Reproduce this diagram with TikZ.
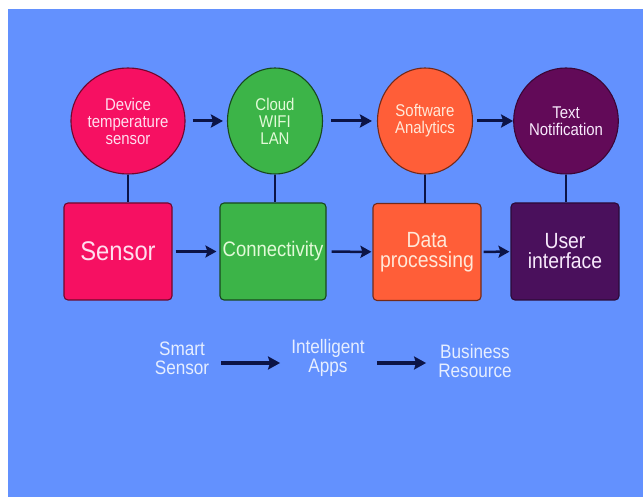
\documentclass[tikz,border=0pt]{standalone}
\usepackage{fontspec}
\newfontfamily\condsans[FakeStretch=0.88]{Liberation Sans}
\usetikzlibrary{shapes.geometric,arrows.meta}

\definecolor{bgblue}{RGB}{99,145,254}
\definecolor{pinkfill}{RGB}{246,16,98}
\definecolor{greenfill}{RGB}{60,180,72}
\definecolor{orangefill}{RGB}{255,94,56}
\definecolor{plumfill}{RGB}{98,10,88}
\definecolor{indigofill}{RGB}{74,16,92}
\definecolor{navy}{RGB}{12,20,70}
\definecolor{pinktext}{RGB}{255,222,238}
\definecolor{greentext}{RGB}{226,250,216}
\definecolor{orangetext}{RGB}{255,232,216}
\definecolor{plumtext}{RGB}{248,234,252}
\definecolor{paletext}{RGB}{230,238,255}

\tikzset{
  bubble/.style={ellipse, minimum width=95pt, minimum height=106pt, inner sep=0pt,
    line width=1.1pt, align=center,
    font={\condsans\fontsize{17}{17}\selectfont}},
  block/.style={rectangle, rounded corners=4pt, minimum width=108pt, minimum height=97pt,
    inner sep=0pt, line width=1.1pt, align=center,
    font={\condsans\fontsize{22}{22}\selectfont}},
  caption/.style={inner sep=0pt, align=center, text=paletext,
    font={\condsans\fontsize{19.5}{19}\selectfont}},
  flow/.style={draw=navy, line width=3pt, -{Stealth[length=12pt,width=13pt,inset=2pt]}},
  flowthin/.style={draw=navy, line width=2.5pt, -{Stealth[length=11pt,width=12pt,inset=2pt]}},
  link/.style={draw=navy, line width=2.2pt}
}

\begin{document}
\begin{tikzpicture}[x=1pt,y=-1pt]
  % page and backdrop
  \fill[white] (0,0) rectangle (643,497);
  \fill[bgblue] (8,9) rectangle (643,497);
  \useasboundingbox (0,0) rectangle (643,497);

  % upper row: ellipses
  \node[bubble, fill=pinkfill, draw=pinkfill!45!black, text=pinktext] (c1) at (128,121)
    {Device\\temperature\\sensor};
  \node[bubble, fill=greenfill, draw=greenfill!40!black, text=greentext] (c2) at (275,121)
    {Cloud\\WIFI\\LAN};
  \node[bubble, fill=orangefill, draw=orangefill!45!black, text=orangetext] (c3) at (425,121)
    {Software\\Analytics};
  \node[bubble, fill=plumfill, draw=plumfill!60!black, text=plumtext] (c4) at (566,121)
    {Text\\Notification};

  % lower row: boxes
  \node[block, fill=pinkfill, draw=pinkfill!45!black, text=pinktext,
        font={\condsans\fontsize{27}{24}\selectfont}] (b1) at (118,251.5) {Sensor};
  \node[block, minimum width=106pt, fill=greenfill, draw=greenfill!40!black, text=greentext,
        font={\condsans\fontsize{21}{20}\selectfont}] (b2) at (273,251.5) {Connectivity};
  \node[block, fill=orangefill, draw=orangefill!45!black, text=orangetext] (b3) at (427,252)
    {\raisebox{-3pt}{Data}\\\raisebox{-1pt}{processing}};
  \node[block, fill=indigofill, draw=indigofill!60!black, text=plumtext] (b4) at (565,251.5)
    {\raisebox{-3pt}{User}\\\raisebox{-1pt}{interface}};

  % vertical links
  \foreach \i in {1,2,3,4}
    \draw[link] (c\i.south) -- (c\i.south |- b\i.north);

  % horizontal flows, upper row
  \draw[flow, shorten <=7pt, shorten >=4pt] (c1) -- (c2);
  \draw[flow, shorten <=8pt, shorten >=5pt] (c2) -- (c3);
  \draw[flow, shorten <=4pt, shorten >=0pt] (c3) -- (c4);

  % horizontal flows, lower row
  \draw[flowthin, shorten <=3pt, shorten >=3pt] (b1) -- (b2);
  \draw[flowthin, shorten <=5pt, shorten >=1pt] (b2) -- (b3);
  \draw[flowthin, shorten <=2pt, shorten >=1pt] (b3) -- (b4);

  % bottom chain
  \node[caption] (t1) at (182,358) {Smart\\Sensor};
  \node[caption] (t2) at (328,358) {Intelligent\\Apps};
  \node[caption] (t3) at (475,361) {Business\\Resource};
  \draw[flow, line width=3.5pt, shorten <=12pt, shorten >=11pt]
    ([yshift=-5pt]t1.east) -- ([yshift=-5pt]t1.east -| t2.west);
  \draw[flow, line width=3.5pt, shorten <=12pt, shorten >=12pt]
    ([yshift=-5pt]t2.east) -- ([yshift=-5pt]t2.east -| t3.west);
\end{tikzpicture}
\end{document}
